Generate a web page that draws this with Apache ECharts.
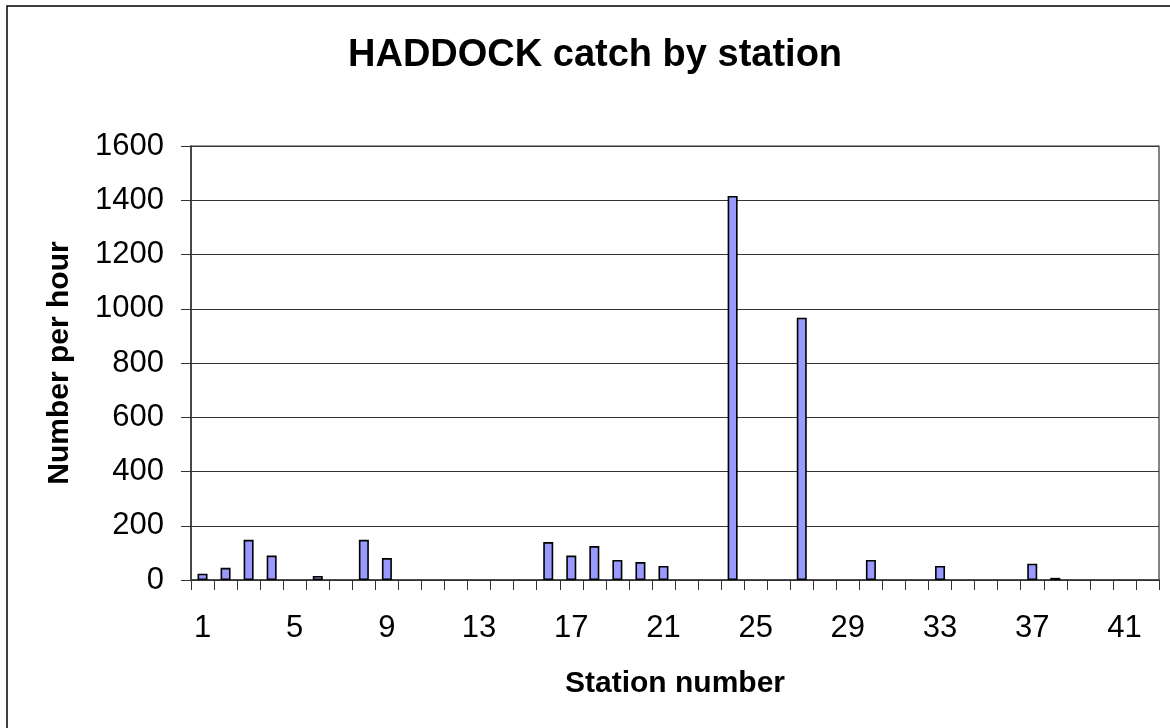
<!DOCTYPE html>
<html>
<head>
<meta charset="utf-8">
<script src="https://cdn.jsdelivr.net/npm/echarts@6/dist/echarts.min.js"></script>
<style>
  html, body { margin: 0; padding: 0; background: #fff; }
  #chart { width: 1170px; height: 728px; }
</style>
</head>
<body>
<div id="chart"></div>
<script>
const titleText = 'HADDOCK catch by station';
const xAxisName = 'Station number';
const yAxisName = 'Number per hour';
const stations = [];
for (let i = 1; i <= 42; i++) stations.push(String(i));
const catchPerHour = [
  23, 45, 148, 90, 0, 15, 0, 148, 81, 0,
  0, 0, 0, 0, 0, 140, 90, 125, 74, 66,
  52, 0, 0, 1416, 0, 0, 967, 0, 0, 74,
  0, 0, 52, 0, 0, 0, 60, 8, 0, 0,
  0, 0
];
const yMin = 0, yMax = 1600, yStep = 200;

const font = 'Liberation Sans, Arial, sans-serif';
const chart = echarts.init(document.getElementById('chart'), null, { renderer: 'canvas' });
chart.setOption({
  backgroundColor: '#ffffff',
  animation: false,
  title: {
    text: titleText,
    left: 348,
    top: 37,
    padding: 0,
    textStyle: { fontFamily: font, fontSize: 38, fontWeight: 'bold', color: '#000' }
  },
  graphic: [{
    type: 'rect',
    shape: { x: 7, y: 6, width: 1200, height: 760 },
    style: { fill: 'none', stroke: '#000', lineWidth: 1.5 },
    silent: true
  }],
  grid: {
    left: 191, right: 11, top: 146, bottom: 148,
    show: true, borderColor: '#333', borderWidth: 1.2, backgroundColor: 'transparent'
  },
  xAxis: {
    type: 'category',
    data: stations,
    boundaryGap: true,
    name: xAxisName,
    nameLocation: 'middle',
    nameGap: 89,
    nameTextStyle: { fontFamily: font, fontSize: 30, fontWeight: 'bold', color: '#000' },
    axisLine: { show: true, lineStyle: { color: '#333', width: 1.5 } },
    axisTick: { show: true, interval: 0, length: 10, inside: false, lineStyle: { color: '#333', width: 1 } },
    axisLabel: { interval: 3, margin: 33, fontFamily: font, fontSize: 31, color: '#000' },
    splitLine: { show: false }
  },
  yAxis: {
    type: 'value',
    min: yMin, max: yMax, interval: yStep,
    name: yAxisName,
    nameLocation: 'middle',
    nameGap: 116,
    nameRotate: 90,
    nameTextStyle: { fontFamily: font, fontSize: 30, fontWeight: 'bold', color: '#000' },
    axisLine: { show: true, lineStyle: { color: '#333', width: 1.5 } },
    axisTick: { show: true, length: 10, inside: false, lineStyle: { color: '#333', width: 1 } },
    axisLabel: { margin: 27, fontFamily: font, fontSize: 31, color: '#000', formatter: v => String(v) },
    splitLine: { show: true, lineStyle: { color: '#333', width: 1.2 } }
  },
  series: [{
    type: 'bar',
    data: catchPerHour.map(v => (v === 0 ? '-' : v)),
    barWidth: 10,
    itemStyle: { color: '#9999FF', borderColor: '#000', borderWidth: 1.6 }
  }]
});
</script>
</body>
</html>
